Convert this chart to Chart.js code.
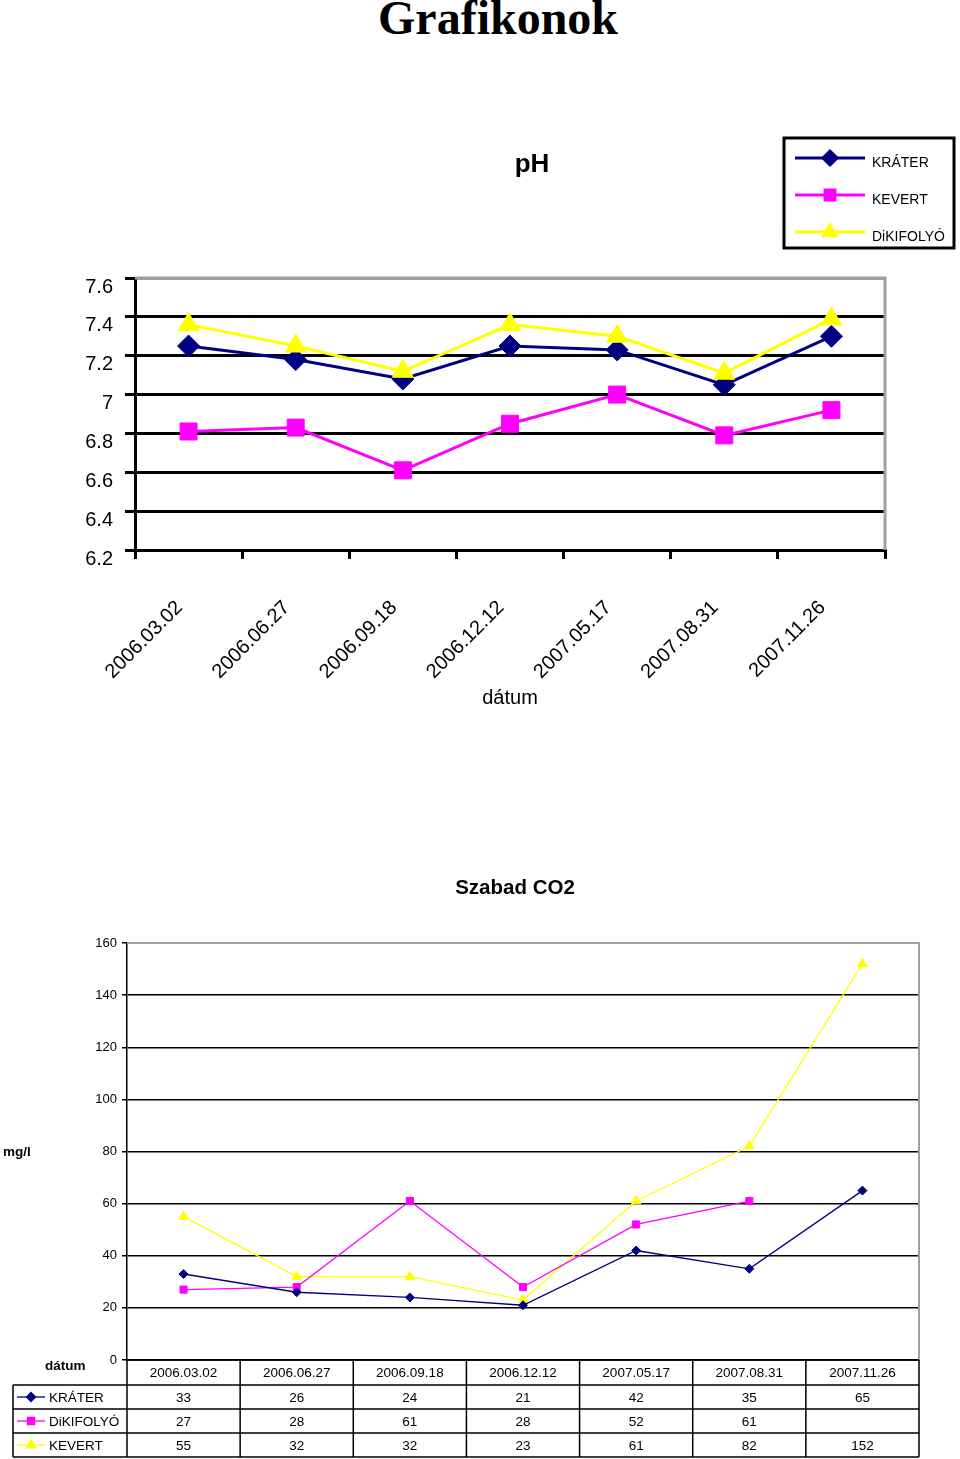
<!DOCTYPE html>
<html>
<head>
<meta charset="utf-8">
<title>Grafikonok</title>
<script src="https://cdn.jsdelivr.net/npm/chart.js@4.4.1/dist/chart.umd.min.js"></script>
<style>
  html, body { margin: 0; padding: 0; background: #fff; }
  body { position: relative; width: 960px; height: 1459px; overflow: hidden; font-family: "Liberation Sans", Arial, sans-serif; }
  h1 { position: absolute; left: 378px; top: -6px; margin: 0; font: bold 48px/48px "Liberation Serif", "Times New Roman", serif; }
  #phBox { position: absolute; left: 0; top: 130px; }
  #co2Box { position: absolute; left: 0; top: 860px; }
</style>
</head>
<body>
<h1>Grafikonok</h1>
<div id="phBox"><canvas id="phChart" width="960" height="590"></canvas></div>
<div id="co2Box"><canvas id="co2Chart" width="960" height="599"></canvas></div>
<script>
// measuring dates
const dates = ['2006.03.02', '2006.06.27', '2006.09.18', '2006.12.12', '2007.05.17', '2007.08.31', '2007.11.26'];

// pH values
const phKrater = [7.25, 7.18, 7.08, 7.25, 7.23, 7.05, 7.30];
const phKevert = [6.81, 6.83, 6.61, 6.85, 7.00, 6.79, 6.92];
const phDikifolyo = [7.36, 7.25, 7.12, 7.36, 7.30, 7.11, 7.39];
const phMin = 6.2;
const phMax = 7.6;
const phStep = 0.2;

// free CO2 (mg/l)
const co2Krater = [33, 26, 24, 21, 42, 35, 65];
const co2Dikifolyo = [27, 28, 61, 28, 52, 61, null];
const co2Kevert = [55, 32, 32, 23, 61, 82, 152];
const co2Max = 160;
const co2Step = 20;

const NAVY = '#000080';
const MAGENTA = '#ff00ff';
const YELLOW = '#ffff00';
const FONT = '"Liberation Sans", Arial, sans-serif';

function drawMarker(ctx, style, r, x, y, color) {
    ctx.fillStyle = color;
    ctx.strokeStyle = color;
    Chart.helpers.drawPoint(ctx, { pointStyle: style, radius: r, rotation: 0, borderWidth: 1 }, x, y);
}

// gray top / right edge of the plot area
const frame = {
    id: 'frame',
    beforeDatasetsDraw(chart, args, opts) {
        const { ctx, chartArea: a } = chart;
        ctx.save();
        ctx.strokeStyle = '#a0a0a0';
        ctx.lineWidth = opts.width || 2;
        ctx.beginPath();
        ctx.moveTo(a.left, a.top);
        ctx.lineTo(a.right, a.top);
        ctx.lineTo(a.right, a.bottom);
        ctx.stroke();
        ctx.restore();
    }
};

// chart caption, placed like in the spreadsheet (not centred on the canvas)
const caption = {
    id: 'caption',
    afterDraw(chart, args, opts) {
        const ctx = chart.ctx;
        ctx.save();
        ctx.fillStyle = '#000';
        ctx.font = 'bold ' + opts.size + 'px ' + FONT;
        ctx.textAlign = 'center';
        ctx.textBaseline = 'middle';
        ctx.fillText(opts.text, opts.x, opts.y);
        ctx.restore();
    }
};

// boxed legend of the pH chart
const phLegend = {
    id: 'phLegend',
    afterDraw(chart) {
        const ctx = chart.ctx;
        ctx.save();
        ctx.strokeStyle = '#000';
        ctx.lineWidth = 3;
        ctx.strokeRect(784, 8, 170, 110);
        const rows = [28, 65, 102];
        chart.data.datasets.forEach((ds, i) => {
            const y = rows[i];
            ctx.strokeStyle = ds.borderColor;
            ctx.lineWidth = 3;
            ctx.beginPath();
            ctx.moveTo(795, y);
            ctx.lineTo(865, y);
            ctx.stroke();
            drawMarker(ctx, ds.pointStyle, 7, 830, y, ds.borderColor);
            ctx.fillStyle = '#000';
            ctx.font = '14px ' + FONT;
            ctx.textAlign = 'left';
            ctx.textBaseline = 'middle';
            ctx.fillText(ds.label, 872, y + 5);
        });
        ctx.restore();
    }
};

new Chart(document.getElementById('phChart'), {
    type: 'line',
    data: {
        labels: dates,
        datasets: [
            { label: 'KRÁTER', data: phKrater, borderColor: NAVY, backgroundColor: NAVY, pointStyle: 'rectRot', pointRadius: 11, order: 3 },
            { label: 'KEVERT', data: phKevert, borderColor: MAGENTA, backgroundColor: MAGENTA, pointStyle: 'rect', pointRadius: 12, order: 2 },
            { label: 'DiKIFOLYÓ', data: phDikifolyo, borderColor: YELLOW, backgroundColor: YELLOW, pointStyle: 'triangle', pointRadius: 12, order: 1 }
        ]
    },
    options: {
        responsive: false,
        animation: false,
        devicePixelRatio: 1,
        elements: { line: { borderWidth: 3, tension: 0 }, point: { borderWidth: 1, hoverRadius: 12 } },
        layout: { padding: { left: 0, right: 75, top: 148, bottom: 0 } },
        plugins: {
            legend: { display: false },
            tooltip: { enabled: false },
            title: { display: false },
            caption: { text: 'pH', size: 26, x: 532, y: 35 },
            frame: { width: 3 }
        },
        scales: {
            x: {
                offset: true,
                afterFit(scale) { scale.height = 170; },
                border: { color: '#000', width: 3 },
                grid: { offset: true, drawOnChartArea: false, color: '#000', lineWidth: 3, tickLength: 9 },
                ticks: { color: '#000', font: { family: FONT, size: 20 }, minRotation: 45, maxRotation: 45, padding: 37, labelOffset: -9, autoSkip: false },
                title: { display: true, text: 'dátum', color: '#000', font: { family: FONT, size: 20 }, padding: { top: 0, bottom: 10 } }
            },
            y: {
                min: phMin,
                max: phMax,
                afterFit(scale) { scale.width = 135; },
                border: { color: '#000', width: 3 },
                grid: {
                    color: (c) => (c.tick && c.tick.value > phMax - 0.01) ? '#a0a0a0' : '#000',
                    tickColor: '#000',
                    lineWidth: 3,
                    tickLength: 10
                },
                ticks: {
                    stepSize: phStep,
                    color: '#000',
                    font: { family: FONT, size: 20 },
                    padding: 12,
                    labelOffset: 9,
                    callback: (v) => String(Math.round(v * 10) / 10)
                }
            }
        }
    },
    plugins: [frame, caption, phLegend]
});

// y-axis caption and data table under the CO2 chart
const co2Extras = {
    id: 'co2Extras',
    afterDraw(chart) {
        const { ctx, chartArea: a, scales: { x } } = chart;
        const colW = (a.right - a.left) / dates.length;
        const tableLeft = 13;
        const headH = 25;
        const rowH = 24;
        ctx.save();
        ctx.fillStyle = '#000';
        ctx.font = 'bold 13.5px ' + FONT;
        ctx.textAlign = 'left';
        ctx.textBaseline = 'middle';
        ctx.fillText('mg/l', 3, (a.top + a.bottom) / 2 + 1);
        ctx.fillText('dátum', 45, a.bottom + 6);

        const rowsTop = a.bottom + headH;
        const bottom = rowsTop + rowH * chart.data.datasets.length;
        ctx.strokeStyle = '#000';
        ctx.lineWidth = 1.5;
        ctx.beginPath();
        // horizontal rules
        ctx.moveTo(a.left, a.bottom); ctx.lineTo(a.right, a.bottom);
        for (let r = 0; r <= chart.data.datasets.length; r++) {
            const y = rowsTop + r * rowH;
            ctx.moveTo(tableLeft, y); ctx.lineTo(a.right, y);
        }
        // vertical rules
        ctx.moveTo(tableLeft, rowsTop); ctx.lineTo(tableLeft, bottom);
        for (let i = 0; i <= dates.length; i++) {
            const xx = a.left + i * colW;
            ctx.moveTo(xx, a.bottom); ctx.lineTo(xx, bottom);
        }
        ctx.stroke();

        ctx.font = '13.5px ' + FONT;
        ctx.textAlign = 'center';
        dates.forEach((d, i) => ctx.fillText(d, x.getPixelForValue(i), a.bottom + headH / 2 + 1));
        chart.data.datasets.forEach((ds, r) => {
            const y = rowsTop + r * rowH + rowH / 2;
            ctx.strokeStyle = ds.borderColor;
            ctx.lineWidth = 1.3;
            ctx.beginPath();
            ctx.moveTo(17, y); ctx.lineTo(45, y);
            ctx.stroke();
            drawMarker(ctx, ds.pointStyle, ds.pointRadius, 31, y, ds.borderColor);
            ctx.fillStyle = '#000';
            ctx.textAlign = 'left';
            ctx.fillText(ds.label, 49, y + 1);
            ctx.textAlign = 'center';
            ds.data.forEach((v, i) => {
                if (v !== null) ctx.fillText(String(v), x.getPixelForValue(i), y + 1);
            });
        });
        ctx.restore();
    }
};

new Chart(document.getElementById('co2Chart'), {
    type: 'line',
    data: {
        labels: dates,
        datasets: [
            { label: 'KRÁTER', data: co2Krater, borderColor: NAVY, backgroundColor: NAVY, pointStyle: 'rectRot', pointRadius: 4.5 },
            { label: 'DiKIFOLYÓ', data: co2Dikifolyo, borderColor: MAGENTA, backgroundColor: MAGENTA, pointStyle: 'rect', pointRadius: 5 },
            { label: 'KEVERT', data: co2Kevert, borderColor: YELLOW, backgroundColor: YELLOW, pointStyle: 'triangle', pointRadius: 5.5 }
        ]
    },
    options: {
        responsive: false,
        animation: false,
        devicePixelRatio: 1,
        elements: { line: { borderWidth: 1.3, tension: 0 }, point: { borderWidth: 1 } },
        layout: { padding: { left: 0, right: 41, top: 83, bottom: 0 } },
        plugins: {
            legend: { display: false },
            tooltip: { enabled: false },
            title: { display: false },
            caption: { text: 'Szabad CO2', size: 20.5, x: 515, y: 28 },
            frame: { width: 2 }
        },
        scales: {
            x: {
                offset: true,
                afterFit(scale) { scale.height = 99; },
                border: { color: '#000', width: 1.5 },
                grid: { drawOnChartArea: false, drawTicks: false },
                ticks: { display: false }
            },
            y: {
                min: 0,
                max: co2Max,
                afterFit(scale) { scale.width = 127; },
                border: { color: '#000', width: 1.5 },
                grid: {
                    color: (c) => (c.tick && c.tick.value >= co2Max) ? '#a0a0a0' : '#000',
                    tickColor: '#000',
                    lineWidth: 1.5,
                    tickLength: 5
                },
                ticks: { stepSize: co2Step, color: '#000', font: { family: FONT, size: 13 }, padding: 5 }
            }
        }
    },
    plugins: [frame, caption, co2Extras]
});
</script>
</body>
</html>
